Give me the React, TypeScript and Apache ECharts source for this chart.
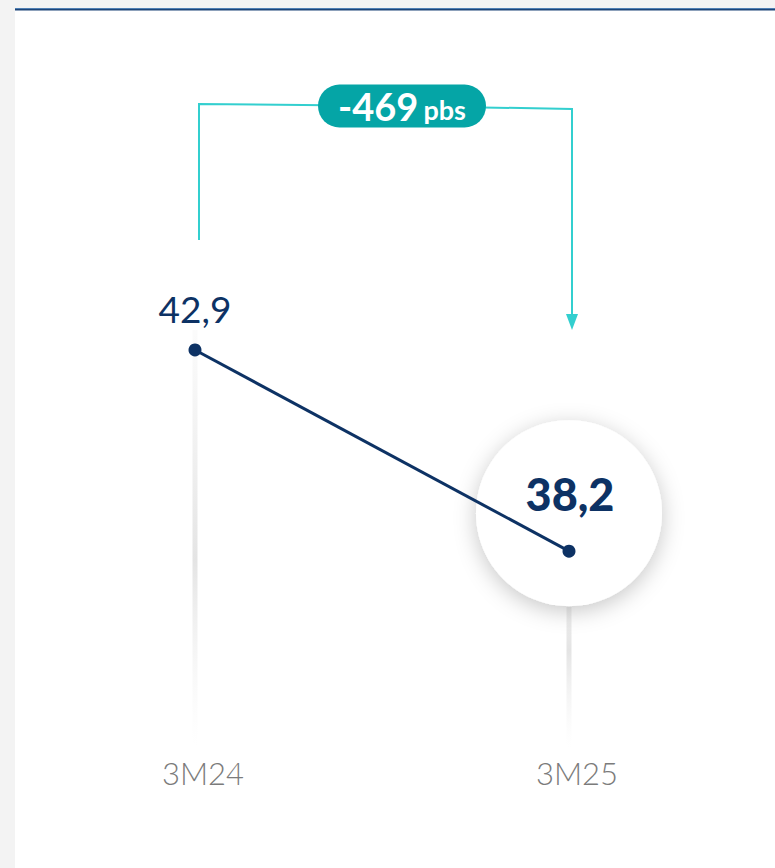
import React, { useEffect, useRef } from "react";
import * as echarts from "echarts";

const categories = ["3M24", "3M25"];
const values = [42.9, 38.2];
const changeLabel = "-469";
const changeUnit = "pbs";

const NAVY = "#0d3264";
const TEAL_LINE = "#33cfcf";
const TEAL_PILL = "#05a5a6";
const FONT = "Lato, 'Noto Sans', sans-serif";

const fmt = (v: number) => v.toFixed(1).replace(".", ",");

const Y_MIN = 33.6;
const Y_MAX = 47.9;

export default function App() {
  const ref = useRef<HTMLDivElement>(null);

  useEffect(() => {
    if (!ref.current) return;
    const chart = echarts.init(ref.current, null, { renderer: "svg" });
    const last = values.length - 1;

    const option: any = {
      animation: false,
      backgroundColor: "#f3f3f3",
      grid: { left: 195, right: 206, top: 136, bottom: 120 },
      xAxis: {
        type: "category",
        data: categories,
        boundaryGap: false,
        axisLine: { show: false },
        axisTick: { show: false },
        splitLine: { show: false },
        axisLabel: {
          color: "#7b7b7b",
          fontSize: 31,
          fontWeight: 300,
          fontFamily: FONT,
          margin: 9,
          padding: [0, 0, 0, 16],
        },
      },
      yAxis: {
        type: "value",
        min: Y_MIN,
        max: Y_MAX,
        show: false,
        splitLine: { show: false },
      },
      series: [
        {
          type: "custom",
          z: 1,
          data: values.map((v, i) => [i, v]),
          renderItem: (params: any, api: any) => {
            const p = api.coord([api.value(0), api.value(1)]);
            const b = api.coord([api.value(0), Y_MIN]);
            const top = p[1] - 20;
            return {
              type: "rect",
              shape: { x: p[0] - 2.5, y: top, width: 5, height: b[1] - top },
              style: {
                fill: new echarts.graphic.LinearGradient(0, 0, 0, 1, [
                  { offset: 0, color: "rgba(236,236,236,0.2)" },
                  { offset: 0.55, color: "rgba(228,228,228,1)" },
                  { offset: 1, color: "rgba(245,245,245,0)" },
                ]),
              },
            };
          },
        },
        {
          type: "scatter",
          z: 2,
          data: values.map((v, i) => (i === last ? v : "-")),
          symbol: "circle",
          symbolSize: 186,
          symbolOffset: [0, -38],
          itemStyle: {
            color: "#ffffff",
            opacity: 1,
            shadowBlur: 22,
            shadowColor: "rgba(0,0,0,0.22)",
            shadowOffsetY: 5,
          },
          label: {
            show: true,
            position: "inside",
            offset: [1, -19],
            formatter: (p: any) => fmt(p.value),
            color: NAVY,
            opacity: 1,
            fontSize: 45,
            fontWeight: 900,
            fontFamily: FONT,
          },
          silent: true,
        },
        {
          type: "line",
          z: 3,
          data: values.map((v, i) => ({
            value: v,
            label: { show: i === 0 },
          })),
          symbol: "circle",
          symbolSize: 13,
          lineStyle: { color: NAVY, width: 3 },
          itemStyle: { color: NAVY },
          label: {
            position: "top",
            distance: 16,
            formatter: (p: any) => fmt(p.value),
            color: NAVY,
            fontSize: 37,
            fontFamily: FONT,
          },
        },
      ],
    };
    chart.setOption(option);

    const p0 = chart.convertToPixel({ seriesIndex: 2 }, [0, values[0]]) as number[];
    const p1 = chart.convertToPixel({ seriesIndex: 2 }, [last, values[last]]) as number[];
    const lx = p0[0] + 4;
    const rx = p1[0] + 3;
    const pillW = 168;
    const pillH = 43;
    const pillCx = 402;
    const pillCy = 106;

    chart.setOption({
      graphic: [
        { type: "rect", z: -10, shape: { x: 15, y: 10, width: 760, height: 858 }, style: { fill: "#ffffff" }, silent: true },
        { type: "rect", z: -9, shape: { x: 15, y: 8, width: 760, height: 1 }, style: { fill: "#4f7fb3" }, silent: true },
        { type: "rect", z: -9, shape: { x: 15, y: 9, width: 760, height: 1.5 }, style: { fill: "#1c4478" }, silent: true },
        {
          type: "polyline",
          z: 10,
          shape: { points: [[lx, 240], [lx, 104], [pillCx, 106], [rx, 109], [rx, 318]] },
          style: { stroke: TEAL_LINE, lineWidth: 2, fill: "none" },
          silent: true,
        },
        {
          type: "polygon",
          z: 10,
          shape: { points: [[rx - 6, 314], [rx + 6, 314], [rx, 330]] },
          style: { fill: TEAL_LINE },
          silent: true,
        },
        {
          type: "rect",
          z: 11,
          shape: { x: pillCx - pillW / 2, y: pillCy - pillH / 2, width: pillW, height: pillH, r: pillH / 2 },
          style: { fill: TEAL_PILL },
          silent: true,
        },
        {
          type: "text",
          z: 12,
          x: pillCx,
          y: pillCy,
          style: {
            text: `{a|${changeLabel}}{b|${changeUnit}}`,
            align: "center",
            verticalAlign: "middle",
            rich: {
              a: { fontSize: 38, fontWeight: "bold", fill: "#ffffff", fontFamily: FONT, color: "#ffffff" },
              b: { fontSize: 27, fontWeight: "bold", fill: "#ffffff", fontFamily: FONT, color: "#ffffff", padding: [6, 0, 0, 5] },
            },
          },
          silent: true,
        },
      ],
    });

    return () => chart.dispose();
  }, []);

  return (
    <div
      ref={ref}
      style={{ position: "fixed", left: 0, top: 0, width: 775, height: 868 }}
    />
  );
}
